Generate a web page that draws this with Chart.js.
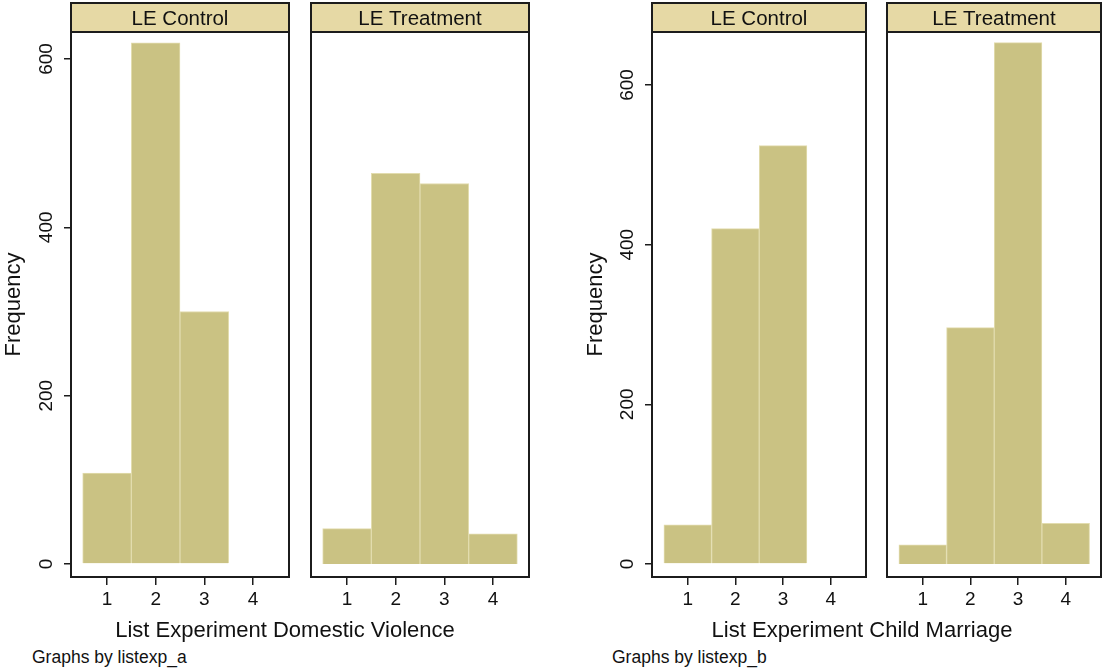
<!DOCTYPE html>
<html>
<head>
<meta charset="utf-8">
<title>List experiment histograms</title>
<script src="https://cdn.jsdelivr.net/npm/chart.js@4.4.1/dist/chart.umd.min.js"></script>
<style>
    html, body { margin: 0; padding: 0; background: #fff; }
    body {
        width: 1113px; height: 671px; position: relative; overflow: hidden;
        font-family: "Liberation Sans", Arial, sans-serif; color: #111;
    }
    .panel { position: absolute; top: 0; }
    .panel canvas { display: block; }
    .xtitle { position: absolute; top: 619px; font-size: 22px; line-height: 22px; white-space: nowrap; transform: translateX(-50%); }
    .note { position: absolute; top: 648px; font-size: 17.5px; line-height: 18px; white-space: nowrap; }
</style>
</head>
<body>
<div class="panel" style="left:0px"><canvas id="dv-control" width="300" height="620"></canvas></div>
<div class="panel" style="left:300px"><canvas id="dv-treatment" width="240" height="620"></canvas></div>
<div class="panel" style="left:570px"><canvas id="cm-control" width="310" height="620"></canvas></div>
<div class="panel" style="left:880px"><canvas id="cm-treatment" width="233" height="620"></canvas></div>

<div class="xtitle" style="left:285px">List Experiment Domestic Violence</div>
<div class="xtitle" style="left:862px">List Experiment Child Marriage</div>
<div class="note" style="left:32px">Graphs by listexp_a</div>
<div class="note" style="left:612px">Graphs by listexp_b</div>

<script>
// bins of the histogram (values of the list count)
const BINS = [1, 2, 3, 4];
const FREQ_TICKS = [0, 200, 400, 600];

// frequencies, one value per bin
const DV_CONTROL = [108, 619, 300, null];
const DV_TREATMENT = [42, 464, 452, 36];
const CM_CONTROL = [49, 420, 524, null];
const CM_TREATMENT = [24, 296, 653, 51];

const FONT = "'Liberation Sans', Arial, sans-serif";
const BAR_FILL = "#cac283";
const BAR_LINE = "#e2dcae";
const STRIP_FILL = "#e6d9a5";
const FRAME = "#1c1c1c";

// strip on top of each panel plus the box around the plot region
const panelFrame = {
    id: "panelFrame",
    afterDraw(chart, args, opts) {
        const { ctx, chartArea: a } = chart;
        const stripH = 29;
        ctx.save();
        ctx.fillStyle = STRIP_FILL;
        ctx.fillRect(a.left, a.top - stripH, a.width, stripH);
        ctx.strokeStyle = FRAME;
        ctx.lineWidth = 2;
        ctx.strokeRect(a.left, a.top - stripH, a.width, stripH);
        ctx.strokeRect(a.left, a.top, a.width, a.height);
        ctx.fillStyle = "#111";
        ctx.font = `20.5px ${FONT}`;
        ctx.textAlign = "center";
        ctx.textBaseline = "alphabetic";
        ctx.fillText(opts.label || "", (a.left + a.right) / 2, a.top - 7);
        ctx.restore();
    },
};

class HistogramPanels {

    init() {
        this._charts = [];

        this._panel("dv-control", DV_CONTROL, "LE Control", { xMin: 0.26, xMax: 4.74, yMin: -15.4, yMax: 632, padLeft: 0, padRight: 11, axisWidth: 71, titlePad: 1 });
        this._panel("dv-treatment", DV_TREATMENT, "LE Treatment", { xMin: 0.26, xMax: 4.74, yMin: -15.4, yMax: 632, padLeft: 11, padRight: 11 });
        this._panel("cm-control", CM_CONTROL, "LE Control", { xMin: 0.25, xMax: 4.74, yMin: -16.3, yMax: 666.4, padLeft: 0, padRight: 14, axisWidth: 82, titlePad: 13 });
        this._panel("cm-treatment", CM_TREATMENT, "LE Treatment", { xMin: 0.25, xMax: 4.74, yMin: -16.3, yMax: 666.4, padLeft: 7, padRight: 12 });
    }

    _panel(canvasId, values, label, o) {
        const ctx = document.getElementById(canvasId);
        if (!ctx) return;

        const withAxis = !!o.axisWidth;

        const chart = new Chart(ctx, {
            type: "bar",
            data: {
                datasets: [{
                    data: BINS.map((b, i) => ({ x: b, y: values[i] })),
                    backgroundColor: BAR_FILL,
                    borderColor: BAR_LINE,
                    borderWidth: 1,
                    barPercentage: 1,
                    categoryPercentage: 1,
                }],
            },
            options: {
                responsive: false,
                animation: false,
                events: [],
                layout: { padding: { top: 32, bottom: 0, left: o.padLeft, right: o.padRight } },
                plugins: {
                    legend: { display: false },
                    tooltip: { enabled: false },
                    panelFrame: { label },
                },
                scales: {
                    x: {
                        type: "linear",
                        offset: false,
                        min: o.xMin,
                        max: o.xMax,
                        afterBuildTicks: s => { s.ticks = BINS.map(v => ({ value: v })); },
                        afterFit: s => { s.height = 43; s.paddingLeft = 0; s.paddingRight = 0; },
                        grid: { offset: false, drawOnChartArea: false, drawTicks: true, tickLength: 8, color: FRAME, lineWidth: 1.5 },
                        border: { display: false },
                        ticks: { font: { size: 19, family: FONT }, color: "#111", padding: 3, maxRotation: 0, autoSkip: false },
                    },
                    y: {
                        display: withAxis,
                        min: o.yMin,
                        max: o.yMax,
                        afterBuildTicks: s => { s.ticks = FREQ_TICKS.map(v => ({ value: v })); },
                        afterFit: s => {
                            if (!withAxis) return;
                            s.width = o.axisWidth;
                            s.paddingTop = 0;
                            s.paddingBottom = 0;
                        },
                        grid: { drawOnChartArea: false, drawTicks: true, tickLength: 7, color: FRAME, lineWidth: 1.5 },
                        border: { display: false },
                        ticks: {
                            font: { size: 19, family: FONT }, color: "#111", padding: 1,
                            minRotation: 90, maxRotation: 90, crossAlign: "center", autoSkip: false,
                        },
                        title: {
                            display: true,
                            text: "Frequency",
                            font: { size: 22, family: FONT },
                            color: "#111",
                            padding: { top: o.titlePad || 0, bottom: 0 },
                        },
                    },
                },
            },
            plugins: [panelFrame],
        });

        this._charts.push(chart);
    }
}

new HistogramPanels().init();
</script>
</body>
</html>
